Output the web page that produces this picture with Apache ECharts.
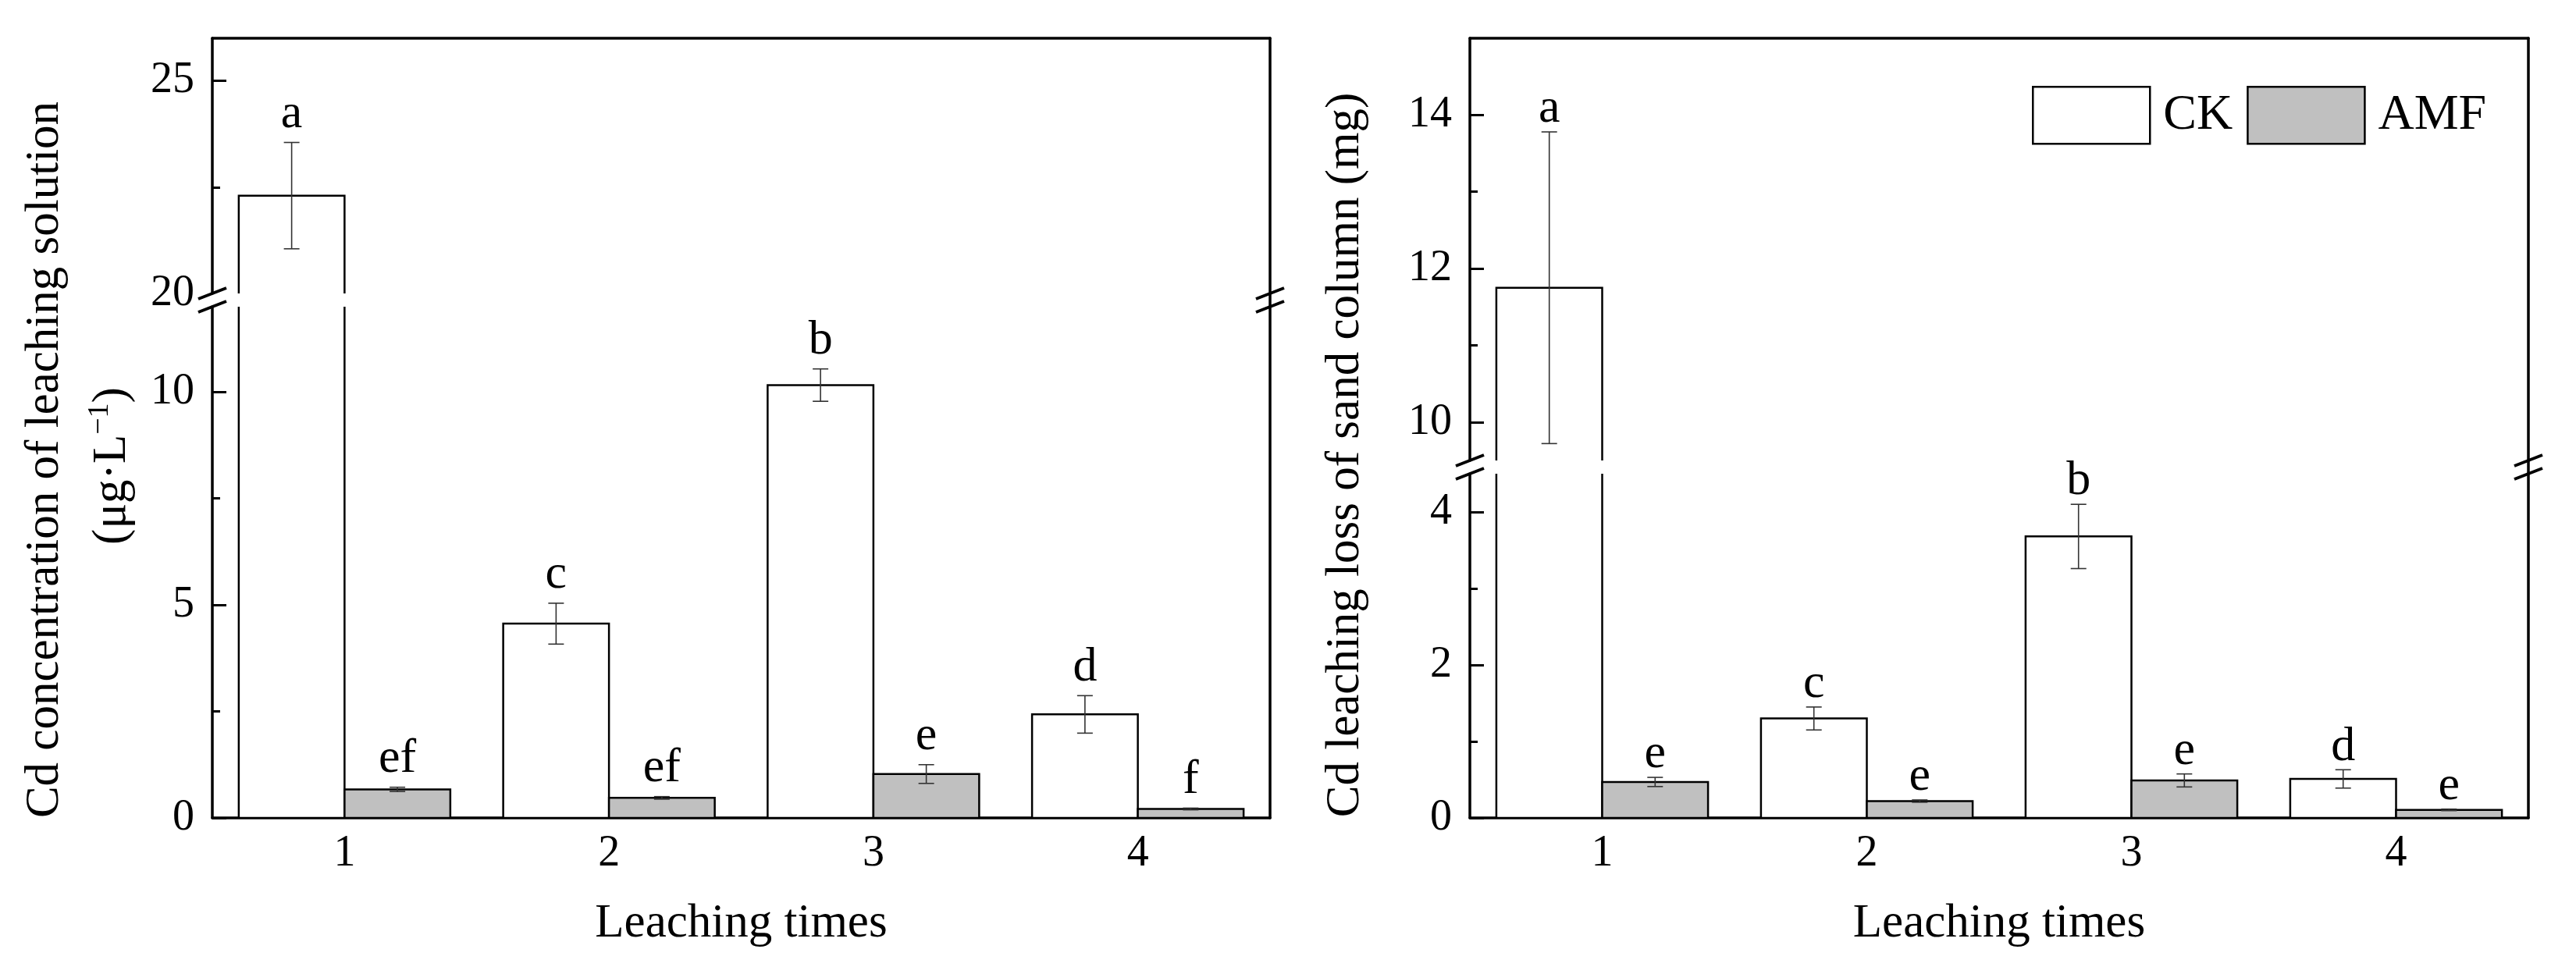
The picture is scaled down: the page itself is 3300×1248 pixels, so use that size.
<!DOCTYPE html>
<html>
<head>
<meta charset="utf-8">
<script src="https://cdn.jsdelivr.net/npm/echarts@6/dist/echarts.min.js"></script>
<style>
  html, body { margin: 0; padding: 0; background: #fff; }
  #main { width: 3300px; height: 1248px; }
</style>
</head>
<body>
<div id="main"></div>
<script>
(function () {
    // 淋洗次数
    var times = ['1', '2', '3', '4'];

    // 左图: 淋洗液Cd浓度 (μg·L-1)
    var ckConc = [22.3, 4.56, 10.16, 2.43];
    var ckConcSd = [1.25, 0.48, 0.38, 0.44];
    var ckConcLetters = ['a', 'c', 'b', 'd'];
    var amfConc = [0.67, 0.47, 1.03, 0.21];
    var amfConcSd = [0.05, 0.03, 0.22, 0.02];
    var amfConcLetters = ['ef', 'ef', 'e', 'f'];

    // 右图: 砂柱Cd淋失量 (mg)
    var ckLoss = [11.75, 1.30, 3.68, 0.51];
    var ckLossSd = [2.03, 0.15, 0.42, 0.12];
    var ckLossLetters = ['a', 'c', 'b', 'd'];
    var amfLoss = [0.47, 0.22, 0.49, 0.105];
    var amfLossSd = [0.06, 0.015, 0.085, 0.01];
    var amfLossLetters = ['e', 'e', 'e', 'e'];

    // 断轴范围和刻度
    var concUpperRange = [20, 26];
    var concUpperTicks = [20, 25];
    var concUpperMinor = [22.5];
    var concLowerRange = [0, 12];
    var concLowerTicks = [0, 5, 10];
    var concLowerMinor = [2.5, 7.5];

    var lossUpperRange = [9.5, 15];
    var lossUpperTicks = [10, 12, 14];
    var lossUpperMinor = [11, 13];
    var lossLowerRange = [0, 4.5];
    var lossLowerTicks = [0, 2, 4];
    var lossLowerMinor = [1, 3];

    var FONT = 'Liberation Serif';
    var AMF_COLOR = '#c0c0c0';

    // 画布布局 (px)
    var panels = [
        { left: 272, right: 1627, top: 49, breakTop: 376, breakBottom: 393, bottom: 1048, gap: 17 },
        { left: 1883, right: 3239, top: 49, breakTop: 590, breakBottom: 607, bottom: 1048, gap: 10 }
    ];

    var myChart = echarts.init(document.getElementById('main'));

    var grids = [];
    var xAxes = [];
    var yAxes = [];
    var series = [];
    var graphics = [];

    function addGrid(p, isUpper, range, ticks, minor) {
        var g = grids.length;
        var top = isUpper ? p.top : p.breakBottom;
        var bottom = isUpper ? p.breakTop : p.bottom;
        grids.push({
            left: p.left,
            top: top,
            width: p.right - p.left,
            height: bottom - top,
            containLabel: false
        });

        var axisLine = { show: true, onZero: false, lineStyle: { color: '#000', width: 3.5 } };
        xAxes.push({
            type: 'category',
            gridIndex: g,
            data: times,
            position: isUpper ? 'top' : 'bottom',
            axisLine: axisLine,
            axisTick: { show: false },
            axisLabel: isUpper ? { show: false } : {
                color: '#000', fontFamily: FONT, fontSize: 56, margin: 18
            },
            splitLine: { show: false },
            name: isUpper ? '' : 'Leaching times',
            nameLocation: 'middle',
            nameGap: 105,
            nameTextStyle: { color: '#000', fontFamily: FONT, fontSize: 61 }
        });

        // 主刻度和标签
        yAxes.push({
            type: 'value',
            gridIndex: g,
            min: range[0],
            max: range[1],
            position: 'left',
            axisLine: axisLine,
            axisTick: {
                show: true, inside: true, length: 18,
                lineStyle: { color: '#000', width: 3 },
                customValues: ticks.filter(function (v) { return v > range[0] || v === 0; })
            },
            axisLabel: {
                color: '#000', fontFamily: FONT, fontSize: 56, margin: 23,
                customValues: ticks
            },
            splitLine: { show: false }
        });
        // 次刻度
        yAxes.push({
            type: 'value',
            gridIndex: g,
            min: range[0],
            max: range[1],
            position: 'left',
            axisLine: { show: false },
            axisTick: {
                show: true, inside: true, length: 10,
                lineStyle: { color: '#000', width: 3 },
                customValues: minor
            },
            axisLabel: { show: false },
            splitLine: { show: false }
        });
        // 右边框
        yAxes.push({
            type: 'value',
            gridIndex: g,
            min: range[0],
            max: range[1],
            position: 'right',
            axisLine: axisLine,
            axisTick: { show: false },
            axisLabel: { show: false },
            splitLine: { show: false }
        });
        return g;
    }

    function barGeom(api, side) {
        var i = api.value(0);
        var m = api.value(1);
        var sd = api.value(2);
        var top = api.coord([i, m]);
        var w = api.size([1, 0])[0] * 0.4;
        var x0 = side < 0 ? top[0] - w : top[0];
        return {
            x0: x0, w: w, cx: x0 + w / 2, top: top[1],
            base: api.coord([i, 0])[1],
            yHi: api.coord([i, m + sd])[1],
            yLo: api.coord([i, m - sd])[1],
            hi: m + sd
        };
    }

    // 柱子 + 误差线 (裁剪到所在断轴区段)
    function barSeries(name, g, means, sds, side, fill) {
        return {
            type: 'custom',
            name: name,
            xAxisIndex: g,
            yAxisIndex: g * 3,
            clip: true,
            itemStyle: { color: fill, borderColor: '#000' },
            data: means.map(function (m, i) { return [i, m, sds[i]]; }),
            renderItem: function (params, api) {
                var b = barGeom(api, side);
                var errStyle = { stroke: '#333', lineWidth: 1.6 };
                return {
                    type: 'group',
                    children: [{
                        type: 'rect',
                        shape: { x: b.x0, y: b.top, width: b.w, height: b.base - b.top },
                        style: { fill: fill, stroke: '#000', lineWidth: 2.5 }
                    }, {
                        type: 'line',
                        shape: { x1: b.cx, y1: b.yHi, x2: b.cx, y2: b.yLo },
                        style: errStyle
                    }, {
                        type: 'line',
                        shape: { x1: b.cx - 10, y1: b.yHi, x2: b.cx + 10, y2: b.yHi },
                        style: errStyle
                    }, {
                        type: 'line',
                        shape: { x1: b.cx - 10, y1: b.yLo, x2: b.cx + 10, y2: b.yLo },
                        style: errStyle
                    }]
                };
            }
        };
    }

    // 显著性字母 (不裁剪, 只在误差线顶端所在的区段画)
    function letterSeries(g, means, sds, letters, side, gap, range, isUpper) {
        return {
            type: 'custom',
            xAxisIndex: g,
            yAxisIndex: g * 3,
            clip: false,
            z: 5,
            data: means.map(function (m, i) { return [i, m, sds[i]]; }),
            renderItem: function (params, api) {
                var b = barGeom(api, side);
                var inRange = isUpper ? b.hi >= range[0] : b.hi <= range[1];
                if (!inRange) {
                    return { type: 'group', children: [] };
                }
                return {
                    type: 'text',
                    x: b.cx,
                    y: b.yHi - gap + 12,
                    style: {
                        text: letters[params.dataIndex],
                        fill: '#000',
                        font: '62px "' + FONT + '"',
                        align: 'center',
                        verticalAlign: 'bottom'
                    }
                };
            }
        };
    }

    function breakMarks(p) {
        [p.left, p.right].forEach(function (x) {
            [p.breakTop, p.breakBottom].forEach(function (y) {
                graphics.push({
                    type: 'line',
                    z: 100,
                    shape: { x1: x - 18, y1: y + 7, x2: x + 18, y2: y - 7 },
                    style: { stroke: '#000', lineWidth: 4 }
                });
            });
        });
        // 右边框在断口处保持连续
        graphics.push({
            type: 'line',
            z: 100,
            shape: { x1: p.right, y1: p.breakTop, x2: p.right, y2: p.breakBottom },
            style: { stroke: '#000', lineWidth: 3.5 }
        });
    }

    function addPanel(p, upperRange, upperTicks, upperMinor, lowerRange, lowerTicks, lowerMinor,
                      ck, ckSd, ckLetters, amf, amfSd, amfLetters) {
        var gu = addGrid(p, true, upperRange, upperTicks, upperMinor);
        var gl = addGrid(p, false, lowerRange, lowerTicks, lowerMinor);
        [[gu, upperRange, true], [gl, lowerRange, false]].forEach(function (s) {
            series.push(barSeries('CK', s[0], ck, ckSd, -1, '#fff'));
            series.push(barSeries('AMF', s[0], amf, amfSd, 1, AMF_COLOR));
            series.push(letterSeries(s[0], ck, ckSd, ckLetters, -1, p.gap, s[1], s[2]));
            series.push(letterSeries(s[0], amf, amfSd, amfLetters, 1, p.gap, s[1], s[2]));
        });
        breakMarks(p);
    }

    addPanel(panels[0], concUpperRange, concUpperTicks, concUpperMinor,
        concLowerRange, concLowerTicks, concLowerMinor,
        ckConc, ckConcSd, ckConcLetters, amfConc, amfConcSd, amfConcLetters);
    addPanel(panels[1], lossUpperRange, lossUpperTicks, lossUpperMinor,
        lossLowerRange, lossLowerTicks, lossLowerMinor,
        ckLoss, ckLossSd, ckLossLetters, amfLoss, amfLossSd, amfLossLetters);

    // 纵轴标题
    var titleStyle = { fill: '#000', fontFamily: FONT, fontSize: 61, align: 'center', verticalAlign: 'middle' };
    graphics.push({
        type: 'text', x: 58, y: 589, rotation: Math.PI / 2, z: 100,
        style: echarts.util.extend({ text: 'Cd concentration of leaching solution' }, titleStyle)
    });
    graphics.push({
        type: 'text', x: 144, y: 597, rotation: Math.PI / 2, z: 100,
        style: echarts.util.extend({
            text: '(μg·L{sup|−1})',
            rich: {
                sup: { fontFamily: FONT, fontSize: 38, verticalAlign: 'top', lineHeight: 70, fill: '#000' }
            },
            lineHeight: 70
        }, titleStyle)
    });
    graphics.push({
        type: 'text', x: 1724, y: 583, rotation: Math.PI / 2, z: 100,
        style: echarts.util.extend({ text: 'Cd leaching loss of sand column (mg)' }, titleStyle)
    });

    myChart.setOption({
        backgroundColor: '#fff',
        animation: false,
        textStyle: { fontFamily: FONT },
        grid: grids,
        xAxis: xAxes,
        yAxis: yAxes,
        legend: {
            left: 2598,
            top: 105,
            itemWidth: 150,
            itemHeight: 73,
            itemGap: 18,
            textStyle: { color: '#000', fontFamily: FONT, fontSize: 64, padding: [0, 0, 0, 12] },
            data: [
                { name: 'CK', icon: 'rect', itemStyle: { color: '#fff', borderColor: '#000', borderWidth: 2.5 } },
                { name: 'AMF', icon: 'rect', itemStyle: { color: AMF_COLOR, borderColor: '#000', borderWidth: 2.5 } }
            ]
        },
        graphic: graphics,
        series: series
    });
})();
</script>
</body>
</html>
